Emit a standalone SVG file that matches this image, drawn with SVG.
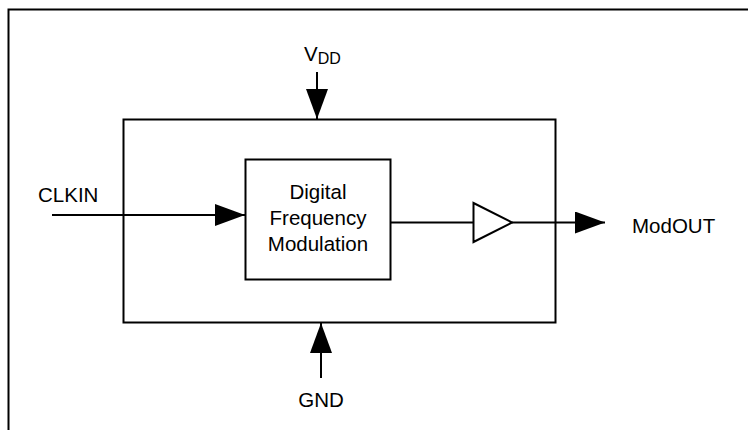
<svg xmlns="http://www.w3.org/2000/svg" width="748" height="430" viewBox="0 0 748 430">
<style>
.ln{stroke:#000;stroke-width:2;fill:none}
.bx{stroke:#000;stroke-width:2;fill:#fff}
.tx{font-family:"Liberation Sans",Arial,sans-serif;font-size:20.5px;fill:#000}
</style>
<defs>
<marker id="ah" viewBox="0 0 30 22" refX="30" refY="11" markerWidth="30" markerHeight="22" markerUnits="userSpaceOnUse" orient="auto">
<path d="M0,0 L30,11 L0,22 Z" fill="#000"/>
</marker>
</defs>
<rect width="748" height="430" fill="#fff"/>
<path class="ln" d="M8.5,430 V9.5 H748"/>
<g id="block">
<rect class="bx" x="123.5" y="119.5" width="432" height="203"/>
</g>
<g id="dfm">
<rect class="bx" x="245.5" y="159.5" width="145" height="120"/>
<text class="tx" text-anchor="middle" x="318" y="198.5">Digital</text>
<text class="tx" text-anchor="middle" x="318" y="224.5">Frequency</text>
<text class="tx" text-anchor="middle" x="318" y="250.5">Modulation</text>
</g>
<g id="buffer">
<path class="bx" d="M473.5,203 L512,222.5 L473.5,242 Z"/>
</g>
<g id="vdd">
<text class="tx" x="304" y="61">V<tspan font-size="16" dy="3">DD</tspan></text>
</g>
<g id="clkin">
<text class="tx" x="38" y="202">CLKIN</text>
</g>
<g id="modout">
<text class="tx" x="632" y="232.5">ModOUT</text>
</g>
<g id="gnd">
<text class="tx" text-anchor="middle" x="321" y="407">GND</text>
</g>
<g id="connectors">
<line class="ln" x1="317" y1="72" x2="317" y2="119" marker-end="url(#ah)"/>
<line class="ln" x1="321" y1="378" x2="321" y2="323" marker-end="url(#ah)"/>
<line class="ln" x1="52" y1="215" x2="245" y2="215" marker-end="url(#ah)"/>
<line class="ln" x1="391" y1="222.5" x2="473.5" y2="222.5"/>
<line class="ln" x1="512" y1="222.5" x2="605" y2="222.5" marker-end="url(#ah)"/>
</g>
</svg>
